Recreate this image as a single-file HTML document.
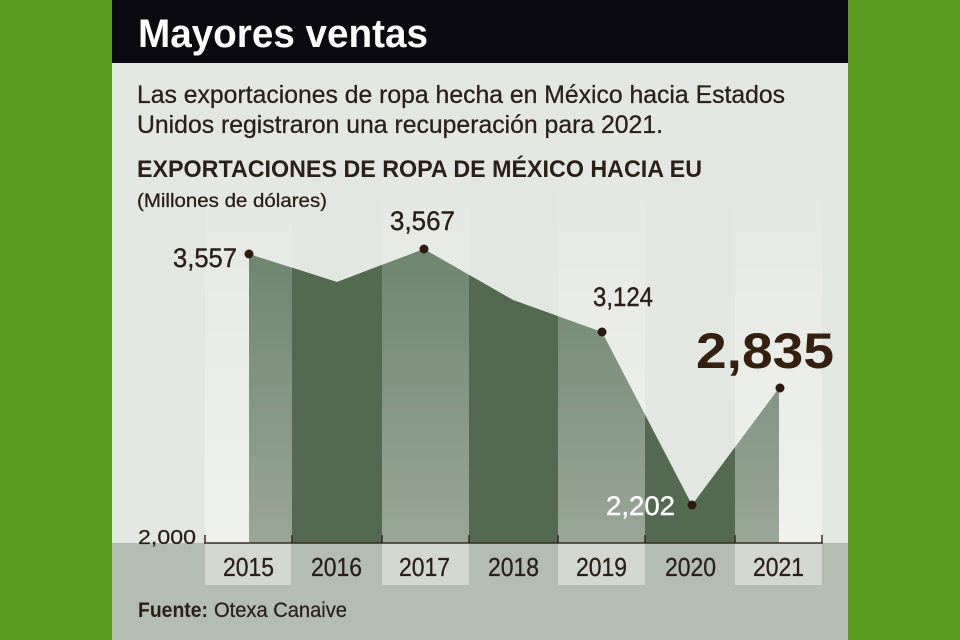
<!DOCTYPE html>
<html>
<head>
<meta charset="utf-8">
<style>
  html, body { margin: 0; padding: 0; background: #5a9a1e; }
  svg { display: block; }
  text { font-family: "Liberation Sans", "DejaVu Sans", sans-serif; }
</style>
</head>
<body>
<svg width="960" height="640" viewBox="0 0 960 640" xmlns="http://www.w3.org/2000/svg">
  <defs>
    <linearGradient id="areaGrad" gradientUnits="userSpaceOnUse" x1="0" y1="249" x2="0" y2="543">
      <stop offset="0" stop-color="#6d866e"/>
      <stop offset="1" stop-color="#9aa698"/>
    </linearGradient>
    <linearGradient id="stripGrad" gradientUnits="userSpaceOnUse" x1="0" y1="150" x2="0" y2="543">
      <stop offset="0" stop-color="#e3e7e1"/>
      <stop offset="1" stop-color="#eff1ed"/>
    </linearGradient>
    <clipPath id="darkBands">
      <rect x="292" y="150" width="90" height="393"/>
      <rect x="469" y="150" width="89" height="393"/>
      <rect x="645" y="150" width="90" height="393"/>
    </clipPath>
  </defs>

  <!-- green background -->
  <rect x="0" y="0" width="960" height="640" fill="#5a9a1e"/>
  <!-- panel -->
  <rect x="112" y="0" width="736" height="640" fill="#e3e7e1"/>

  <!-- light strips (behind everything) -->
  <rect x="205" y="150" width="87" height="393" fill="url(#stripGrad)"/>
  <rect x="382" y="150" width="87" height="393" fill="url(#stripGrad)"/>
  <rect x="558" y="150" width="87" height="393" fill="url(#stripGrad)"/>
  <rect x="735" y="150" width="87" height="393" fill="url(#stripGrad)"/>

  <!-- header -->
  <rect x="112" y="0" width="736" height="63" fill="#0a0a10"/>
  <text x="138" y="47" font-size="40" font-weight="bold" fill="#ffffff" textLength="290" lengthAdjust="spacingAndGlyphs">Mayores ventas</text>

  <!-- intro text -->
  <g fill="#2b1f17" stroke="#2b1f17" stroke-width="0.3">
    <text x="137" y="103" font-size="25" textLength="648" lengthAdjust="spacingAndGlyphs">Las exportaciones de ropa hecha en México hacia Estados</text>
    <text x="137" y="133" font-size="25" textLength="526" lengthAdjust="spacingAndGlyphs">Unidos registraron una recuperación para 2021.</text>
    <text x="137" y="207" font-size="19" textLength="190" lengthAdjust="spacingAndGlyphs">(Millones de dólares)</text>
  </g>
  <text x="137" y="177" font-size="24" font-weight="bold" fill="#2b1f17" textLength="565" lengthAdjust="spacingAndGlyphs">EXPORTACIONES DE ROPA DE MÉXICO HACIA EU</text>

  <!-- area -->
  <polygon points="249,254 337,282 424,249 513,300 602,332 692,505 779,388 779,543 249,543" fill="url(#areaGrad)"/>
  <polygon points="249,254 337,282 424,249 513,300 602,332 692,505 779,388 779,543 249,543" fill="#536a50" clip-path="url(#darkBands)"/>

  <!-- bottom section -->
  <rect x="112" y="543" width="736" height="97" fill="#b4bdb1"/>
  <rect x="205" y="543" width="86" height="42" fill="#d2d8cf"/>
  <rect x="382" y="543" width="87" height="42" fill="#d2d8cf"/>
  <rect x="558" y="543" width="87" height="42" fill="#d2d8cf"/>
  <rect x="735" y="543" width="87" height="42" fill="#d2d8cf"/>

  <!-- axis -->
  <line x1="204" y1="543" x2="823" y2="543" stroke="#3b2a1e" stroke-width="1.5"/>
  <g stroke="#3b2a1e" stroke-width="1.5">
    <line x1="205" y1="535" x2="205" y2="543"/>
    <line x1="292" y1="535" x2="292" y2="543"/>
    <line x1="382" y1="535" x2="382" y2="543"/>
    <line x1="469" y1="535" x2="469" y2="543"/>
    <line x1="558" y1="535" x2="558" y2="543"/>
    <line x1="645" y1="535" x2="645" y2="543"/>
    <line x1="735" y1="535" x2="735" y2="543"/>
    <line x1="822" y1="535" x2="822" y2="543"/>
  </g>
  <text x="138" y="544" font-size="20" fill="#2b1f17" stroke="#2b1f17" stroke-width="0.25" textLength="58" lengthAdjust="spacingAndGlyphs">2,000</text>

  <!-- year labels -->
  <g font-size="26" fill="#2b1f17" stroke="#2b1f17" stroke-width="0.3">
    <text x="223" y="576" textLength="51" lengthAdjust="spacingAndGlyphs">2015</text>
    <text x="311" y="576" textLength="51" lengthAdjust="spacingAndGlyphs">2016</text>
    <text x="399" y="576" textLength="51" lengthAdjust="spacingAndGlyphs">2017</text>
    <text x="488" y="576" textLength="51" lengthAdjust="spacingAndGlyphs">2018</text>
    <text x="576" y="576" textLength="51" lengthAdjust="spacingAndGlyphs">2019</text>
    <text x="665" y="576" textLength="51" lengthAdjust="spacingAndGlyphs">2020</text>
    <text x="753" y="576" textLength="51" lengthAdjust="spacingAndGlyphs">2021</text>
  </g>

  <!-- dots -->
  <g fill="#2d1a10">
    <circle cx="249" cy="254" r="4.5"/>
    <circle cx="424" cy="249" r="4.5"/>
    <circle cx="602" cy="332" r="4.5"/>
    <circle cx="692" cy="505" r="4.5"/>
    <circle cx="780" cy="388" r="4.5"/>
  </g>

  <!-- value labels -->
  <g font-size="27" fill="#2b1f17" stroke="#2b1f17" stroke-width="0.4">
    <text x="173" y="267" textLength="64" lengthAdjust="spacingAndGlyphs">3,557</text>
    <text x="390" y="230" textLength="65" lengthAdjust="spacingAndGlyphs">3,567</text>
    <text x="593" y="306" textLength="60" lengthAdjust="spacingAndGlyphs">3,124</text>
  </g>
  <text x="606" y="515" font-size="27" fill="#ffffff" stroke="#ffffff" stroke-width="0.4" textLength="69" lengthAdjust="spacingAndGlyphs">2,202</text>
  <text x="696" y="368" font-size="50" font-weight="bold" fill="#35200f" textLength="138" lengthAdjust="spacingAndGlyphs">2,835</text>

  <!-- source -->
  <text x="138" y="617" font-size="21" font-weight="bold" fill="#2b1f17" textLength="70" lengthAdjust="spacingAndGlyphs">Fuente:</text>
  <text x="214" y="617" font-size="21" fill="#2b1f17" stroke="#2b1f17" stroke-width="0.25" textLength="133" lengthAdjust="spacingAndGlyphs">Otexa Canaive</text>
</svg>
</body>
</html>
